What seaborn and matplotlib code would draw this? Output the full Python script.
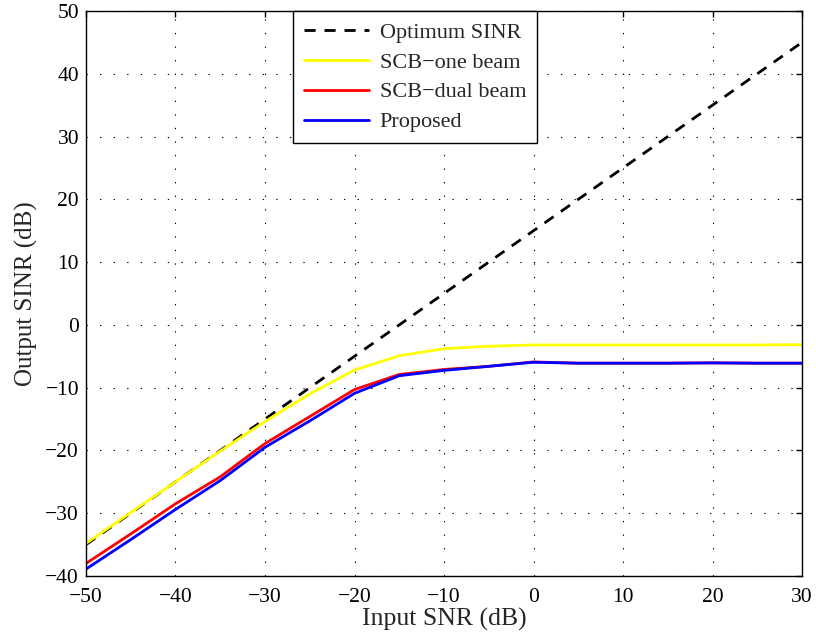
import numpy as np
import pandas as pd
import matplotlib
matplotlib.use("Agg")
import matplotlib.pyplot as plt
import seaborn as sns

snr = [-50, -45, -40, -35, -30, -25, -20, -15, -10, -5, 0, 5, 10, 15, 20, 25, 30]
optimum = [-35, -30, -25, -20, -15, -10, -5, 0, 5, 10, 15, 20, 25, 30, 35, 40, 45]
scb_one = [-34.8, -29.9, -25.0, -20.1, -15.4, -11.0, -7.2, -4.9, -3.8, -3.4, -3.2, -3.2, -3.2, -3.2, -3.2, -3.2, -3.15]
scb_dual = [-38.0, -33.3, -28.5, -24.2, -18.9, -14.6, -10.3, -7.9, -7.1, -6.6, -5.9, -6.1, -6.1, -6.1, -6.05, -6.1, -6.1]
proposed = [-38.9, -34.2, -29.4, -24.8, -19.5, -15.3, -10.9, -8.1, -7.25, -6.6, -5.95, -6.1, -6.1, -6.1, -6.05, -6.1, -6.1]

names = ["Optimum SINR", "SCB\u2212one beam", "SCB\u2212dual beam", "Proposed"]
df = pd.DataFrame({
    "snr": snr * 4,
    "sinr": optimum + scb_one + scb_dual + proposed,
    "method": sum([[n] * len(snr) for n in names], []),
})

sns.set_style("white")
plt.rcParams["font.family"] = ["Liberation Serif", "DejaVu Serif"]

fig = plt.figure(figsize=(8.16, 6.4), dpi=100)
ax = fig.add_axes([86 / 816, 64 / 640, 716 / 816, 565 / 640])

palette = {names[0]: "black", names[1]: "#ffff00", names[2]: "#ff0000", names[3]: "#0000ff"}
dashes = {names[0]: (4, 3.2), names[1]: "", names[2]: "", names[3]: ""}
sns.lineplot(data=df, x="snr", y="sinr", hue="method", style="method",
             palette=palette, dashes=dashes, hue_order=names, style_order=names,
             linewidth=2, ax=ax, legend=True)

ax.set_xlim(-50, 30)
ax.set_ylim(-40, 50)
ax.set_xticks(np.arange(-50, 31, 10))
ax.set_yticks(np.arange(-40, 51, 10))
ax.set_xticklabels([str(v).replace("-", "\u2212") for v in range(-50, 31, 10)])
ax.set_yticklabels([str(v).replace("-", "\u2212") for v in range(-40, 51, 10)])
ax.tick_params(direction="in", length=4, width=1, labelsize=15.5, top=True, right=True,
               color="black", labelcolor="black")
ax.tick_params(axis="x", pad=9)
ax.tick_params(axis="y", pad=5)
ax.grid(True, linestyle=(0, (1.2, 11)), color="black", linewidth=0.8)
for s in ax.spines.values():
    s.set_color("black")
    s.set_linewidth(1)
ax.set_xlabel("Input SNR (dB)", fontsize=18.5, labelpad=0)
ax.set_ylabel("Output SINR (dB)", fontsize=18, labelpad=5)

leg = ax.legend(loc="upper left", bbox_to_anchor=((293 - 86) / 716, 1.0), fontsize=16,
                frameon=True, fancybox=False, edgecolor="black", framealpha=1,
                handlelength=2.9, handletextpad=0.5, borderpad=0.5, labelspacing=0.42,
                borderaxespad=0)
leg.get_frame().set_linewidth(1)

fig.savefig("out.png", dpi=100)
